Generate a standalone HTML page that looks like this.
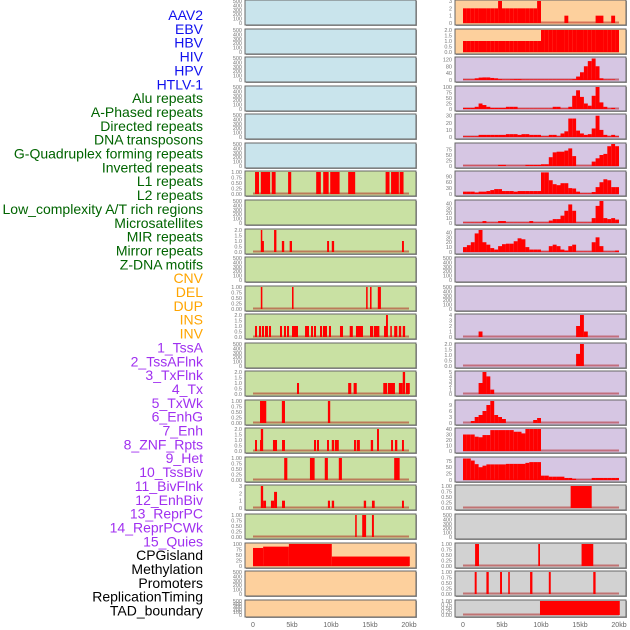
<!DOCTYPE html>
<html><head><meta charset="utf-8"><style>
body{margin:0;background:#fff;width:630px;height:630px;overflow:hidden}
svg{display:block;font-family:"Liberation Sans",sans-serif}
</style></head><body>
<svg id="chart" width="630" height="630" viewBox="0 0 630 630" xmlns="http://www.w3.org/2000/svg"></svg>
<script>
// ---- labels ----
const trackLabels=["AAV2","EBV","HBV","HIV","HPV","HTLV-1","Alu repeats","A-Phased repeats","Directed repeats","DNA transposons","G-Quadruplex forming repeats","Inverted repeats","L1 repeats","L2 repeats","Low_complexity A/T rich regions","Microsatellites","MIR repeats","Mirror repeats","Z-DNA motifs","CNV","DEL","DUP","INS","INV","1_TssA","2_TssAFlnk","3_TxFlnk","4_Tx","5_TxWk","6_EnhG","7_Enh","8_ZNF_Rpts","9_Het","10_TssBiv","11_BivFlnk","12_EnhBiv","13_ReprPC","14_ReprPCWk","15_Quies","CPGisland","Methylation","Promoters","ReplicationTiming","TAD_boundary"];
const labelGroups=[6,13,5,15,5];
const xTickKb=[0,5,10,15,20];
const xTickLabels=["0","5kb","10kb","15kb","20kb"];
// ---- left column interval data [startKb,endKb,value] ----
const L6=[[0.26,0.77,1],[1.0,2.2,1],[2.4,2.9,1],[4.5,4.9,1],[8.1,8.7,1],[9.0,9.7,1],[9.9,11.1,1],[12.2,13.1,1],[17.0,17.5,1],[17.7,18.7,1],[18.8,19.3,1]];
const L8=[[1.0,1.15,2],[1.15,1.4,1],[2.7,3.0,2],[3.7,4.0,1],[4.7,5.0,1],[9.5,9.75,1],[10.1,10.4,1],[19.1,19.35,1]];
const L10=[[1.0,1.2,1],[5.0,5.2,1],[14.5,14.7,1],[15.0,15.2,1],[16.0,16.4,1]];
const L11=[[0.26,0.51,1],[0.77,1.03,1],[1.15,1.41,1],[1.54,1.92,1],[2.05,2.31,1],[3.46,3.72,1],[3.97,4.23,1],[4.36,4.62,1],[5.0,5.77,1],[6.67,7.18,1],[7.44,7.69,1],[7.82,8.08,1],[8.59,8.85,1],[8.97,9.49,1],[9.74,10.0,1],[11.15,11.54,1],[12.4,12.8,1],[13.2,14.1,1],[15.0,15.4,1],[15.5,16.2,1],[16.8,17.05,1],[17.05,17.3,2],[17.6,17.8,1],[18.1,18.5,1],[18.7,19.0,1],[19.2,19.5,1]];
const L13=[[5.64,5.9,1],[12.2,12.6,1],[12.9,13.3,1],[16.7,17.2,1],[17.3,18.2,1],[18.7,19.2,1],[19.2,19.5,2],[19.6,20.1,1]];
const L14=[[0.9,1.7,1],[3.7,4.1,1],[9.6,9.9,1]];
const L15=[[0.26,0.51,1],[0.9,1.0,1],[1.0,1.3,2],[2.56,3.08,1],[3.72,4.1,1],[7.82,8.08,1],[8.2,8.46,1],[9.49,9.74,1],[10.1,10.4,1],[10.5,11.0,1],[12.95,13.2,1],[13.3,13.7,1],[15.1,15.4,1],[15.9,16.15,2],[17.7,17.95,1],[18.2,18.5,1],[19.1,19.35,1]];
const L16=[[4.0,4.4,1],[7.3,7.9,1],[9.2,9.6,1],[11.0,11.4,1],[18.1,18.8,1]];
const L17=[[1.0,1.3,3],[1.3,1.67,1],[2.3,2.7,1],[2.7,3.08,2.2],[3.72,4.1,1],[9.6,9.87,1],[10.1,10.4,1],[14.2,14.5,1],[15.25,15.6,1],[19.1,19.35,1]];
const L18=[[13.1,13.3,1],[14.0,14.5,1],[15.25,15.5,1]];
const L19=[[0,1.3,82],[1.3,4.6,88],[4.6,10.1,100],[10.1,20.1,43]];
// ---- right column binned data (40 bins of 0.5kb) ----
const R0=[2,2,2,2,2,2,2,2,2,3,2,2,2,2,2,2,2,2,2,3,0,0,0,0,0,0,1,0,0,0,0,0,0,0,1,1,0,0,1,0];
const R1=[1,1,1,1,1,1,1,1,1,1,1,1,1,1,1,1,1,1,1,1,2,2,2,2,2,2,2,2,2,2,2,2,2,2,2,2,2,2,2,2];
const R2=[3,3,3,10,14,15,15,12,10,5,3,3,4,5,5,3,3,3,3,3,3,3,3,3,3,3,3,3,5,20,45,80,110,125,80,10,3,3,3,0];
const R3=[5,5,5,10,25,18,10,5,5,5,5,10,10,10,2,2,2,2,2,2,2,2,2,10,10,2,2,10,60,85,55,25,15,60,100,30,10,2,5,0];
const R4=[1,1,1,1,3,3,3,3,3,3,3,4,4,4,3,4,4,3,3,3,1,1,3,3,1,5,8,26,26,9,5,3,4,12,30,10,3,1,3,1];
const R5=[1,1,1,1,1,1,1,1,1,5,5,1,1,1,1,1,5,5,5,5,8,8,40,62,65,65,70,80,45,1,1,1,1,20,35,50,55,90,100,90];
const R6=[12,12,12,8,12,12,15,20,25,25,15,15,15,12,15,15,15,15,15,15,110,110,70,50,45,55,55,30,28,12,3,3,3,10,35,60,75,70,35,35];
const R7=[1,1,1,1,1,4,1,1,1,4,4,1,1,1,1,1,1,4,1,1,1,1,5,8,8,15,25,38,25,1,1,1,1,10,35,45,10,8,10,7];
const R8=[10,14,20,38,45,20,15,8,5,12,16,17,17,22,28,26,10,5,5,5,1,1,12,15,12,5,3,12,15,1,1,1,1,20,30,12,1,1,1,3];
const R11=[0,0,0,0,1,0,0,0,0,0,0,0,0,0,0,0,0,0,0,0,0,0,0,0,0,0,0,0,0,2,4,1,0,0,0,0,0,0,0,0];
const R12=[0,0,0,0,0,0,0,0,0,0,0,0,0,0,0,0,0,0,0,0,0,0,0,0,0,0,0,0,0,1.1,2,0,0,0,0,0,0,0,0,0];
const R13=[0,0,0,0,2.5,5,4,1,0,0,0,0,0,0,0,0,0,0,0,0,0,0,0,0,0,0,0,0,0,0,0,0,0,0,0,0,0,0,0,0];
const R14=[0,0,1,3,4,6,9,11,4,3,2,0,0,0,0,0,0,0,1.5,2.5,0,0,0,0,0,0,0,0,0,0,0,0,0,0,0,0,0,0,0,0];
const R15=[30,30,30,26,25,29,29,38,38,38,38,38,38,35,35,32,40,40,40,40,0,0,0,0,0,0,0,0,0,0,0,0,0,0,0,0,0,0,0,0];
const R16=[84,84,76,62,50,56,61,61,61,61,61,63,63,63,63,63,67,70,70,70,17,17,13,13,13,13,8,8,5,1,1,1,1,8,8,8,8,8,8,8];
const R17=[[13.8,16.5,1]];
const R19=[[1.55,2.05,1],[9.65,9.87,1],[15.2,16.7,1]];
const R20=[[1.5,1.75,1],[3.0,3.3,1],[4.75,5.0,1],[5.8,6.0,1],[8.6,8.9,1],[11.0,11.25,1],[16.7,17.0,1]];
const R21=[[9.87,20.1,1]];

const T500=["0","100","200","300","400","500"], T1=["0.00","0.25","0.50","0.75","1.00"], T2=["0.0","0.5","1.0","1.5","2.0"];
const panels=[
 {c:0,r:0,bg:"#c9e4ec",t:T500},{c:0,r:1,bg:"#c9e4ec",t:T500},{c:0,r:2,bg:"#c9e4ec",t:T500},{c:0,r:3,bg:"#c9e4ec",t:T500},
 {c:0,r:4,bg:"#c9e4ec",t:T500},{c:0,r:5,bg:"#c9e4ec",t:T500},
 {c:0,r:6,bg:"#c9e1a3",t:T1,iv:L6},{c:0,r:7,bg:"#c9e1a3",t:T500},{c:0,r:8,bg:"#c9e1a3",t:T2,iv:L8},{c:0,r:9,bg:"#c9e1a3",t:T500},
 {c:0,r:10,bg:"#c9e1a3",t:T1,iv:L10},{c:0,r:11,bg:"#c9e1a3",t:T2,iv:L11},{c:0,r:12,bg:"#c9e1a3",t:T500},{c:0,r:13,bg:"#c9e1a3",t:T2,iv:L13},
 {c:0,r:14,bg:"#c9e1a3",t:T1,iv:L14},{c:0,r:15,bg:"#c9e1a3",t:T2,iv:L15},{c:0,r:16,bg:"#c9e1a3",t:T1,iv:L16},{c:0,r:17,bg:"#c9e1a3",t:["0","1","2","3"],iv:L17},
 {c:0,r:18,bg:"#c9e1a3",t:T1,iv:L18},{c:0,r:19,bg:"#fdd09d",t:["0","25","50","75","100"],iv:L19},{c:0,r:20,bg:"#fdd09d",t:T500},{c:0,r:21,bg:"#fdd09d",t:T500},
 {c:1,r:0,bg:"#fdd09d",t:["0","1","2","3"],b:R0},{c:1,r:1,bg:"#fdd09d",t:T2,b:R1},
 {c:1,r:2,bg:"#d6c6e3",t:["0","40","80","120"],m:128,b:R2},{c:1,r:3,bg:"#d6c6e3",t:["0","25","50","75","100"],b:R3},
 {c:1,r:4,bg:"#d6c6e3",t:["0","10","20","30"],m:31,b:R4},{c:1,r:5,bg:"#d6c6e3",t:["0","25","50","75"],m:100,b:R5},
 {c:1,r:6,bg:"#d6c6e3",t:["0","30","60","90"],m:112,b:R6},{c:1,r:7,bg:"#d6c6e3",t:["0","10","20","30","40"],m:45,b:R7},
 {c:1,r:8,bg:"#d6c6e3",t:["0","10","20","30","40"],m:45,b:R8},{c:1,r:9,bg:"#d6c6e3",t:T500},{c:1,r:10,bg:"#d6c6e3",t:T500},
 {c:1,r:11,bg:"#d6c6e3",t:["0","1","2","3","4"],b:R11},{c:1,r:12,bg:"#d6c6e3",t:T2,b:R12},{c:1,r:13,bg:"#d6c6e3",t:["0","1","2","3","4","5"],b:R13},
 {c:1,r:14,bg:"#d6c6e3",t:["0","3","6","9"],m:11,b:R14},{c:1,r:15,bg:"#d6c6e3",t:["0","10","20","30","40"],b:R15},
 {c:1,r:16,bg:"#d6c6e3",t:["0","25","50","75"],m:86,b:R16},{c:1,r:17,bg:"#d2d2d2",t:T1,iv:R17},{c:1,r:18,bg:"#d2d2d2",t:T500},
 {c:1,r:19,bg:"#d2d2d2",t:T1,iv:R19},{c:1,r:20,bg:"#d2d2d2",t:T1,iv:R20},{c:1,r:21,bg:"#d2d2d2",t:T1,iv:R21}
];
const tops=[0,29,57,86,114,143,171,200,229,257,286,314,343,371,400,428,457,485,514,543,571,600];
const NS="http://www.w3.org/2000/svg", svg=document.getElementById("chart");
function mk(tag,attrs,parent){const e=document.createElementNS(NS,tag);for(const k in attrs)e.setAttribute(k,attrs[k]);(parent||svg).appendChild(e);return e;}
function xs(c,kb){return (c?463:253)+kb*7.8;}
const colors=["#1010ee","#006400","#ffa500","#a030f0","#000000"];
let gi=0,cnt=0;
trackLabels.forEach((s,i)=>{
 while(cnt>=labelGroups[gi]){cnt=0;gi++;}
 cnt++;
 const t=mk("text",{x:203,y:20+i*13.85,"text-anchor":"end","font-size":"14",fill:colors[gi]});
 
 
 t.textContent=s;
});
panels.forEach(p=>{
 const top=tops[p.r], h=p.r===21?17:25, x0=p.c?455:245, w=171;
 const g=mk("g",{});
 
 
 mk("rect",{x:x0+1,y:top+1,width:w,height:h,fill:"#999"},g);
 mk("rect",{x:x0,y:top,width:w,height:h,fill:p.bg,stroke:"#666","stroke-width":1},g);
 const nums=p.t.map(Number), max=p.m||nums[nums.length-1];
 const yb=top+h-2, yt=top+1;
 const ys=v=>yb-(v/max)*(yb-yt);
 p.t.forEach((lab,k)=>{
  const tt=mk("text",{x:x0-3,y:ys(nums[k])+2,"text-anchor":"end","font-size":"5.5",fill:"#777"},g);
  
  
  tt.textContent=lab;
 });
 if(p.iv||p.b){
  mk("line",{x1:xs(p.c,0),x2:xs(p.c,20),y1:yb-0.5,y2:yb-0.5,stroke:"rgba(170,0,0,0.45)","stroke-width":2},g);
  const bars=p.iv?p.iv:p.b.map((v,i)=>[i*0.5,i*0.5+0.5,v]);
  bars.forEach(d=>{
   if(!d[2])return;
   const xa=xs(p.c,d[0]), xb=Math.max(xs(p.c,d[1]),xa+1.5), y=ys(d[2]);
   const r=mk("rect",{x:xa,y:y,width:xb-xa,height:yb-y,fill:"#ff0000"},g);
   
   
  });
 }
});
[0,1].forEach(c=>{
 xTickKb.forEach((kb,i)=>{
  const t=mk("text",{x:xs(c,kb),y:627,"text-anchor":"middle","font-size":"7",fill:"#666"});
  
  
  t.textContent=xTickLabels[i];
 });
});
</script>
</body></html>
